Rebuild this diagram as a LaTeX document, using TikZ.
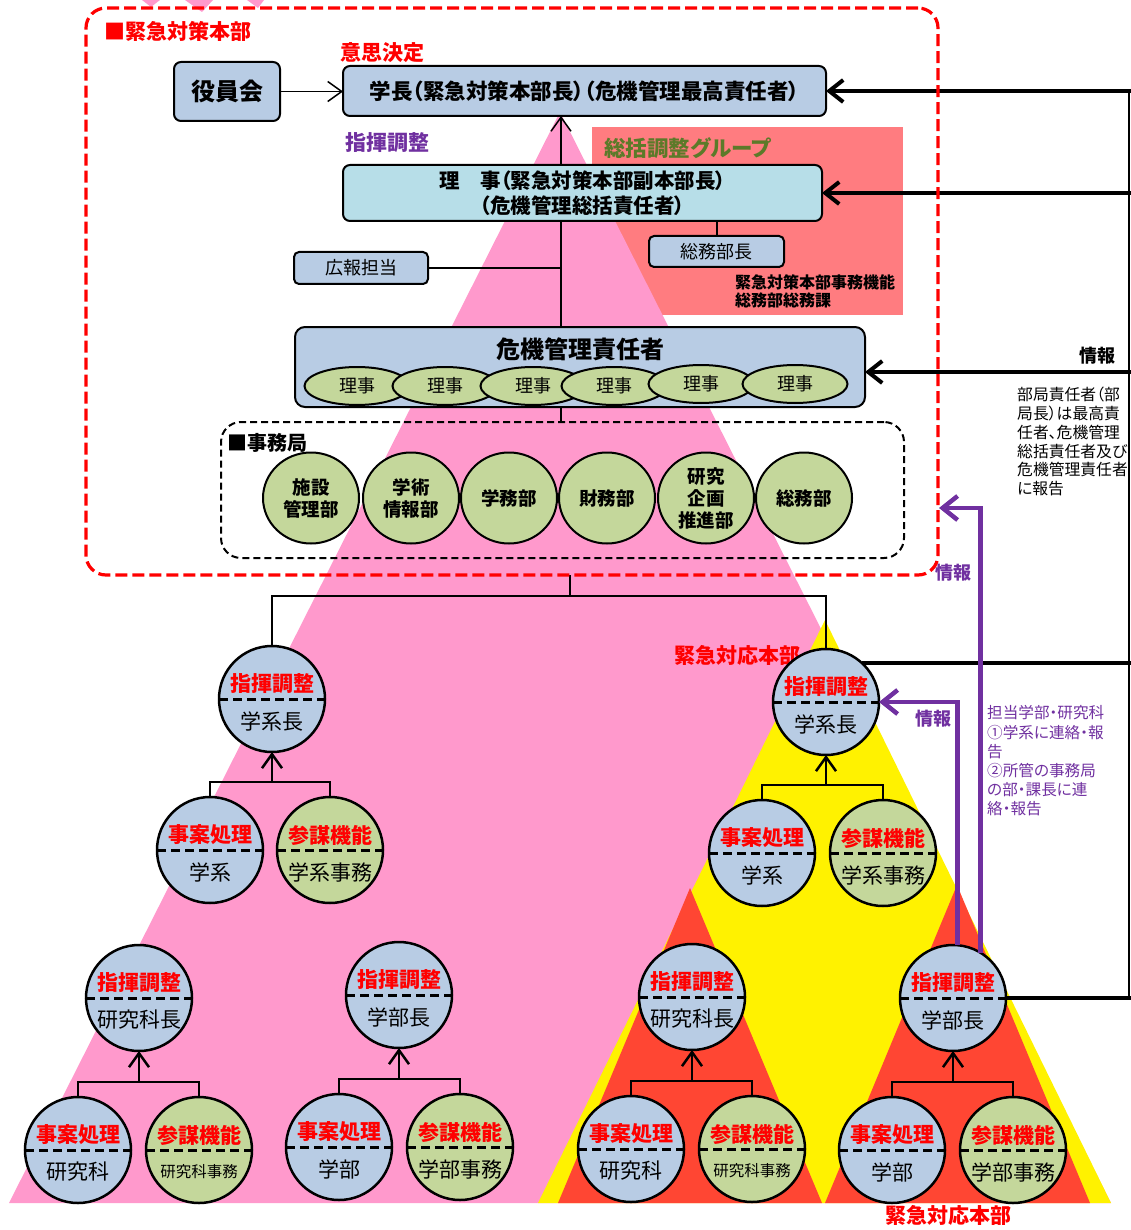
\documentclass[tikz,border=0pt]{standalone}
\usepackage{fontspec}
\setmainfont{Noto Sans CJK JP}[RawFeature=+palt]
\usetikzlibrary{arrows.meta,shapes.geometric}
\definecolor{boxblue}{HTML}{B8CCE4}
\definecolor{boxcyan}{HTML}{B7DEE8}
\definecolor{leaf}{HTML}{C4D79B}
\definecolor{pinkt}{HTML}{FF99CC}
\definecolor{salmon}{HTML}{FF7C80}
\definecolor{redt}{HTML}{FF4633}
\definecolor{purp}{HTML}{7030A0}
\definecolor{olivet}{HTML}{5C7A29}
\newcommand\fsz[1]{\fontsize{#1}{#1}\selectfont}
\newcommand\fszl[2]{\fontsize{#1}{#2}\selectfont}
\tikzset{
 ln/.style={draw=black, line width=2pt},
 box/.style={draw=black, line width=2pt, rounded corners=7pt, fill=boxblue, inner sep=0pt, outer sep=0pt, align=center},
 smallbox/.style={box, rounded corners=5pt, font=\fsz{18}},
 rijiell/.style={ellipse, draw=black, line width=2pt, fill=leaf, minimum width=105pt, minimum height=38pt, inner sep=0pt, font=\fsz{18}},
 deptc/.style={ellipse, draw=black, line width=2pt, fill=leaf, minimum width=96pt, minimum height=91pt, inner sep=0pt, align=center, font=\bfseries\fszl{18.5}{22}},
 sc/.style={circle, draw=black, line width=2.5pt, minimum size=106pt, inner sep=0pt, outer sep=0pt},
 scdash/.style={draw=black, line width=3pt, dash pattern=on 9pt off 5pt},
 sctop/.style={text=red, font=\bfseries\fsz{21}, inner sep=0pt},
 scbot/.style={text=black, font=\fsz{21}, inner sep=0pt},
 grparr/.style={draw=black, line width=2.5pt, -{Straight Barb[length=14pt,width=20pt]}},
 thinarr/.style={draw=black, line width=1.5pt, -{Straight Barb[length=14pt,width=20pt]}},
 bigarr/.style={draw=black, line width=4pt, -{Straight Barb[length=14pt,width=22pt]}},
 parr/.style={draw=purp, line width=4.5pt, -{Straight Barb[length=15pt,width=24pt]}},
 lbl/.style={inner sep=0pt},
}
\newcommand\splitc[6]{%
 \node[sc, fill=#4] (#1) at (#2,#3) {};
 \draw[scdash] (#1.west) -- (#1.east);
 \node[sctop] (#1t) at ([yshift=15pt]#1.center) {#5};
 \node[scbot] (#1u) at ([yshift=-22pt]#1.center) {#6};
}
\newcommand\mkgroup[9]{%
 \splitc{#1h}{#2}{#3}{boxblue}{指揮調整}{#4}
 \splitc{#1a}{#5}{#7}{boxblue}{事案処理}{#8}
 \splitc{#1b}{#6}{#7}{leaf}{参謀機能}{#9}
 \path (#1a.north) ++(0,-15) coordinate (#1bar);
 \draw[ln, line width=2.5pt] (#1a.north) -- (#1bar) -| (#1b.north);
 \draw[grparr] (#1h.south |- #1bar) -- (#1h.south);
}
\begin{document}
\begin{tikzpicture}[x=1pt,y=-1pt]
\useasboundingbox (0,0) rectangle (1131,1230);
% backgrounds
\fill[salmon] (592,127) rectangle (903,315);
\fill[pinkt] (560,112) -- (9,1203) -- (1111,1203) -- cycle;
\fill[yellow] (825,620) -- (538,1203) -- (1111,1203) -- cycle;
\fill[redt] (690,888) -- (558,1203) -- (822,1203) -- cycle;
\fill[redt] (957,885) -- (825,1203) -- (1090,1203) -- cycle;
\fill[pinkt] (142,0) -- (160,0) -- (151,7) -- cycle;
\fill[pinkt] (185,0) -- (213,0) -- (202,12) -- cycle;
\fill[pinkt] (247,0) -- (264,0) -- (258,8) -- cycle;

% right-side lines
\coordinate (r1) at (1131,91);
\coordinate (r2) at (1131,193);
\coordinate (r3) at (1131,372);
\coordinate (r4) at (1131,663);
\coordinate (r5) at (1131,998);
\draw[line width=1.2pt] ([xshift=-2pt]r1) -- ([xshift=-2pt]r5);

% labels
\node[lbl, anchor=west, text=red, font=\bfseries\fsz{21}] (title) at (104,31) {■緊急対策本部};
\node[lbl, text=red, font=\bfseries\fsz{21}] (ishi) at (382,53) {意思決定};
\node[lbl, text=purp, font=\bfseries\fsz{21}] (shiki) at (387,143) {指揮調整};
\node[lbl, anchor=west, text=olivet, font=\bfseries\fsz{21.5}] (sokatsu) at (604,148) {総括調整グループ};
\node[lbl, anchor=west, align=left, font=\bfseries\fszl{16}{18}] (jimukino) at (735,291) {緊急対策本部事務機能\\総務部総務課};
\node[lbl, font=\bfseries\fsz{18}] (joho1) at (1097,356) {情報};
\node[lbl, anchor=north west, align=left, font=\fszl{15.8}{18.8}] (hokoku) at (1017,387) {部局責任者（部\\局長）は最高責\\任者、危機管理\\総括責任者及び\\危機管理責任者\\に報告};
\node[lbl, text=purp, font=\bfseries\fsz{18}] (joho2) at (953,573) {情報};
\node[lbl, text=purp, font=\bfseries\fsz{18}] (joho3) at (933,719) {情報};
\node[lbl, anchor=west, align=left, text=purp, font=\fszl{15.6}{19.2}] (tanto) at (987,761) {担当学部・研究科\\①学系に連絡・報\\告\\②所管の事務局\\の部・課長に連\\絡・報告};
\node[lbl, text=red, font=\bfseries\fsz{21}] (kinkyu1) at (737,655) {緊急対応本部};
\node[lbl, text=red, font=\bfseries\fsz{21}] (kinkyu2) at (948,1215) {緊急対応本部};

% top boxes
\node[box, minimum width=106pt, minimum height=59pt, font=\bfseries\fsz{24}] (yakuin) at (227,91.5) {役員会};
\node[box, minimum width=483pt, minimum height=50pt, font=\bfseries\fsz{21.5}] (gakucho) at (584.5,91) {学長（緊急対策本部長）（危機管理最高責任者）};
\node[box, fill=boxcyan, minimum width=479pt, minimum height=56pt, font=\bfseries\fszl{20.5}{25}] (riji) at (582.5,193) {理　事（緊急対策本部副本部長）\\（危機管理総括責任者）};
\node[smallbox, minimum width=134pt, minimum height=32pt] (koho) at (361,268) {広報担当};
\node[smallbox, minimum width=135pt, minimum height=31pt] (somu) at (716.5,251.5) {総務部長};
\node[box, rounded corners=10pt, minimum width=570pt, minimum height=80pt] (kiki) at (580,367) {};
\node[lbl, font=\bfseries\fsz{24}] (kikit) at (580,349) {危機管理責任者};
\node[rijiell] (e1) at (357,386) {理事};
\node[rijiell] (e2) at (445,386) {理事};
\node[rijiell] (e3) at (533,386) {理事};
\node[rijiell] (e4) at (614,386) {理事};
\node[rijiell] (e5) at (701,384) {理事};
\node[rijiell] (e6) at (795,384) {理事};

% jimukyoku
\node[draw=black, line width=2pt, dash pattern=on 7pt off 4pt, rounded corners=20pt, minimum width=683pt, minimum height=136pt, inner sep=0pt, outer sep=0pt] (jimu) at (562.5,490) {};
\node[lbl, anchor=west, font=\bfseries\fsz{20}] (jimut) at (227,443) {■事務局};
\node[deptc] (d1) at (311,498) {施設\\管理部};
\node[deptc] (d2) at (411,498) {学術\\情報部};
\node[deptc] (d3) at (509,498) {学務部};
\node[deptc] (d4) at (607,498) {財務部};
\node[deptc] (d5) at (706,498) {研究\\企画\\推進部};
\node[deptc] (d6) at (804,498) {総務部};

% top connectors
\coordinate (sp) at (561,0);
\draw[thinarr] (yakuin.east) -- (gakucho.west |- yakuin.east);
\draw[thinarr] (riji.north -| sp) -- (gakucho.south -| sp);
\draw[ln] (riji.south -| sp) -- (kiki.north -| sp);
\draw[ln] (kiki.south -| sp) -- (jimu.north -| sp);
\draw[ln] (koho.east) -- (koho.east -| sp);
\draw[ln] (somu.north) -- (somu.north |- riji.south);

% lower groups
\mkgroup{A}{272}{699}{学系長}{210}{330}{850}{学系}{学系事務}
\mkgroup{B}{826}{702}{学系長}{762}{883}{853}{学系}{学系事務}
\mkgroup{C}{139}{998}{研究科長}{78}{199}{1150}{研究科}{\fsz{15.5}研究科事務}
\mkgroup{D}{399}{995}{学部長}{339}{460}{1147}{学部}{学部事務}
\mkgroup{E}{692}{997}{研究科長}{631}{752}{1149}{研究科}{\fsz{15.5}研究科事務}
\mkgroup{F}{953}{998}{学部長}{892}{1013}{1150}{学部}{学部事務}

\coordinate (hqb) at (570,575);
\draw[ln] (hqb) -- ++(0,21) coordinate (hqbar) -| (Ah.north);
\draw[ln] (hqbar) -| (Bh.north);

% right-side arrows and lines
\draw[bigarr] (r1) -- (gakucho.east);
\draw[bigarr] (r2) -- (riji.east);
\draw[bigarr] (r3) -- (r3 -| kiki.east);
\draw[line width=4pt] (r4) -- (r4 -| Bh.47);
\draw[line width=4pt] (r5) -- (r5 -| Fh.east);

% purple info arrows
\coordinate (hqr) at (939,508);
\draw[parr] (Fh.59) |- (hqr);
\draw[parr] (Fh.85) |- (Bh.east);

% headquarters frame
\node[draw=red, line width=3.2pt, dash pattern=on 12pt off 5pt, rounded corners=20pt, minimum width=852pt, minimum height=567pt, inner sep=0pt, outer sep=0pt] (hq) at (512,291.5) {};
\end{tikzpicture}
\end{document}
